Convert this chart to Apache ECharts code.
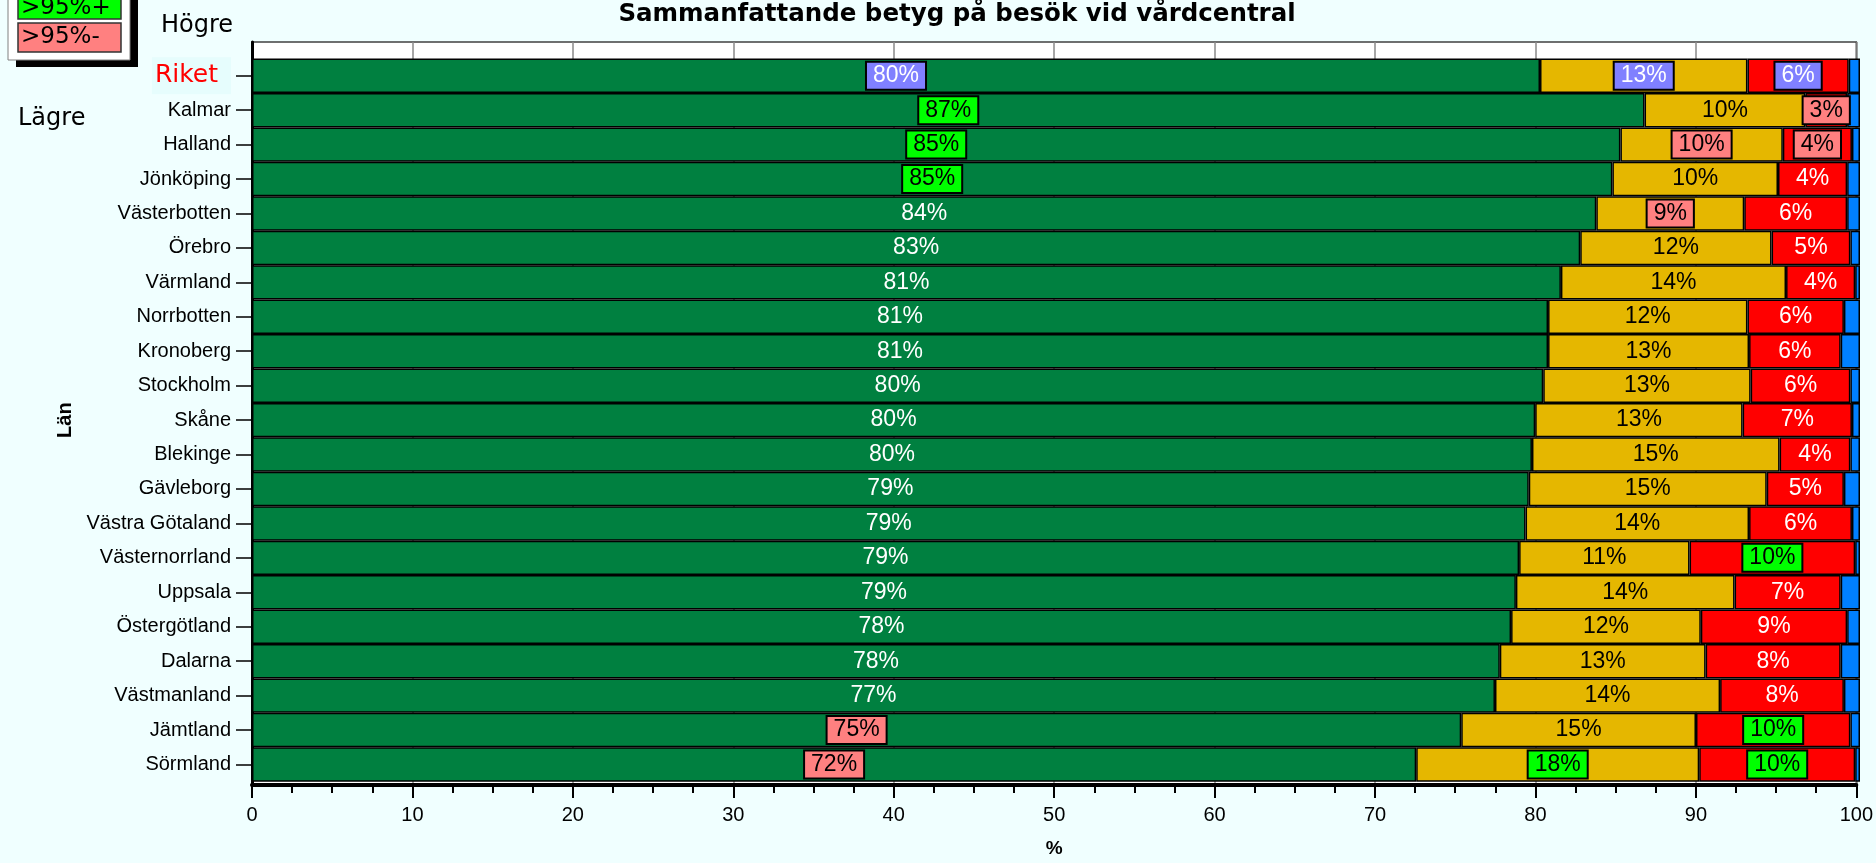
<!DOCTYPE html>
<html>
<head>
<meta charset="utf-8">
<script src="https://cdn.jsdelivr.net/npm/echarts@6/dist/echarts.min.js"></script>
<style>
  html, body { margin: 0; padding: 0; background: #f0ffff; }
  #chart { width: 1876px; height: 863px; }
</style>
</head>
<body>
<div id="chart"></div>
<script>
// Regions, top row is the national figure
const categories = ['Riket', 'Kalmar', 'Halland', 'Jönköping', 'Västerbotten', 'Örebro', 'Värmland',
  'Norrbotten', 'Kronoberg', 'Stockholm', 'Skåne', 'Blekinge', 'Gävleborg', 'Västra Götaland',
  'Västernorrland', 'Uppsala', 'Östergötland', 'Dalarna', 'Västmanland', 'Jämtland', 'Sörmland'];

// Shares of answers (%) per region
const goodShare  = [80.1, 86.6, 85.1, 84.6, 83.6, 82.6, 81.4, 80.6, 80.6, 80.3, 79.8, 79.6, 79.4, 79.2, 78.8, 78.6, 78.3, 77.6, 77.3, 75.2, 72.4];
const midShare   = [12.9, 10.0, 10.1, 10.3,  9.2, 11.9, 14.0, 12.4, 12.5, 12.9, 12.9, 15.4, 14.8, 13.9, 10.6, 13.6, 11.8, 12.8, 14.0, 14.6, 17.6];
const poorShare  = [ 6.3,  2.6,  4.3,  4.3,  6.4,  4.9,  4.3,  6.0,  5.7,  6.2,  6.8,  4.4,  4.8,  6.4, 10.3,  6.6,  9.1,  8.4,  7.7,  9.6,  9.7];
const otherShare = [ 0.7,  0.8,  0.5,  0.8,  0.8,  0.6,  0.3,  1.0,  1.2,  0.6,  0.5,  0.6,  1.0,  0.5,  0.3,  1.2,  0.8,  1.2,  1.0,  0.6,  0.3];

// Significance marks: '+' higher, '-' lower, 'r' national reference
const goodFlags = ['r', '+', '+', '+', '', '', '', '', '', '', '', '', '', '', '', '', '', '', '', '-', '-'];
const midFlags  = ['r', '', '-', '', '-', '', '', '', '', '', '', '', '', '', '', '', '', '', '', '', '+'];
const poorFlags = ['r', '-', '-', '', '', '', '', '', '', '', '', '', '', '', '+', '', '', '', '', '+', '+'];

const xTicks = { min: 0, max: 100, interval: 10 };

const flagStyles = {
  '+': { backgroundColor: '#00ff00', color: '#000000' },
  '-': { backgroundColor: '#ff8080', color: '#000000' },
  'r': { backgroundColor: '#8080ff', color: '#ffffff' }
};

function withFlags(values, flags) {
  return values.map(function (v, i) {
    const f = flags[i];
    if (!f) return v;
    return {
      value: v,
      label: Object.assign({ borderColor: '#000', borderWidth: 2, padding: [2, 6, 1, 6] }, flagStyles[f])
    };
  });
}

const SANS = '"Liberation Sans", Arial, sans-serif';
const WIDE = '"DejaVu Sans", Verdana, sans-serif';

function barSeries(name, values, color, textColor, flags) {
  return {
    name: name,
    type: 'bar',
    stack: 'all',
    xAxisIndex: 1,
    yAxisIndex: 1,
    barCategoryGap: '0%',
    data: flags ? withFlags(values, flags) : values,
    itemStyle: { color: color, borderColor: '#000', borderWidth: 1.5 },
    label: {
      show: !!flags,
      position: 'inside',
      fontFamily: SANS,
      fontSize: 23,
      color: textColor,
      formatter: function (p) { return Math.round(p.value) + '%'; }
    },
    emphasis: { disabled: true }
  };
}

const chart = echarts.init(document.getElementById('chart'));
chart.setOption({
  backgroundColor: '#f0ffff',
  animation: false,
  textStyle: { fontFamily: SANS },
  grid: [
    { left: 252, right: 16, top: 42, bottom: 65, show: true, backgroundColor: '#ffffff', borderColor: '#404040', borderWidth: 1.5 },
    { left: 252, right: 16, top: 58.5, bottom: 81.3 }
  ],
  xAxis: [
    {
      gridIndex: 0, type: 'value', min: xTicks.min, max: xTicks.max, interval: xTicks.interval,
      axisLine: { show: true, onZero: false, lineStyle: { color: '#000', width: 4 } },
      axisTick: { show: true, length: 13, lineStyle: { color: '#000', width: 2 } },
      minorTick: { show: true, splitNumber: 4, length: 8, lineStyle: { color: '#000', width: 2 } },
      splitLine: { show: true, lineStyle: { color: '#888888', width: 1.5 } },
      axisLabel: { fontFamily: SANS, fontSize: 20, color: '#000', margin: 20 },
      name: '%', nameLocation: 'middle', nameGap: 54,
      nameTextStyle: { fontFamily: SANS, fontSize: 19, fontWeight: 'bold', color: '#000' }
    },
    { gridIndex: 1, type: 'value', min: xTicks.min, max: xTicks.max, show: false }
  ],
  yAxis: [
    {
      gridIndex: 0, type: 'value', min: 0, max: 1,
      axisLine: { show: true, onZero: false, lineStyle: { color: '#000', width: 3 } },
      axisTick: { show: false }, axisLabel: { show: false }, splitLine: { show: false }
    },
    {
      gridIndex: 1, type: 'category', inverse: true,
      data: categories.map(function (c, i) {
        if (i === 0) {
          return { value: c, textStyle: { color: '#ff0000', fontFamily: WIDE, fontSize: 25,
            backgroundColor: '#e6fdfd', padding: [6, 13, 6, 3] } };
        }
        return c;
      }),
      axisLine: { show: false },
      axisTick: { show: true, alignWithLabel: true, length: 16, lineStyle: { color: '#000', width: 1.5 } },
      axisLabel: { fontFamily: SANS, fontSize: 20, color: '#000', margin: 21 },
      name: 'Län', nameLocation: 'middle', nameGap: 170, nameRotate: 90,
      nameTextStyle: { fontFamily: SANS, fontSize: 20, fontWeight: 'bold', color: '#000' }
    }
  ],
  series: [
    barSeries('Bra', goodShare, '#008040', '#ffffff', goodFlags),
    barSeries('Mellan', midShare, '#e5b700', '#000000', midFlags),
    barSeries('Dåligt', poorShare, '#ff0000', '#ffffff', poorFlags),
    barSeries('Övrigt', otherShare, '#0080ff', '#000000', null)
  ],
  graphic: [
    { type: 'text',
      style: { text: 'Sammanfattande betyg på besök vid vårdcentral', x: 957, y: 15, textAlign: 'center', textVerticalAlign: 'middle',
        font: 'bold 24.5px ' + WIDE, fill: '#000' } },
    { type: 'text', style: { text: 'Högre', x: 161, y: 26, textVerticalAlign: 'middle', font: '24px ' + WIDE, fill: '#000' } },
    { type: 'text', style: { text: 'Lägre', x: 18, y: 119, textVerticalAlign: 'middle', font: '24px ' + WIDE, fill: '#000' } },
    // significance key
    { type: 'rect', shape: { x: 16, y: -20, width: 122, height: 87 }, style: { fill: '#000' } },
    { type: 'rect', shape: { x: 8, y: -27, width: 122, height: 87 }, style: { fill: '#ffffff', stroke: '#808080', lineWidth: 1 } },
    { type: 'rect', shape: { x: 18, y: -10, width: 103, height: 29 }, style: { fill: '#00ff00', stroke: '#333', lineWidth: 1.5 } },
    { type: 'rect', shape: { x: 18, y: 23, width: 103, height: 29 }, style: { fill: '#ff8080', stroke: '#333', lineWidth: 1.5 } },
    { type: 'text', style: { text: '>95%+', x: 21, y: 8, textVerticalAlign: 'middle', font: '23px ' + WIDE, fill: '#000' } },
    { type: 'text', style: { text: '>95%-', x: 21, y: 37, textVerticalAlign: 'middle', font: '23px ' + WIDE, fill: '#000' } }
  ]
});
</script>
</body>
</html>
